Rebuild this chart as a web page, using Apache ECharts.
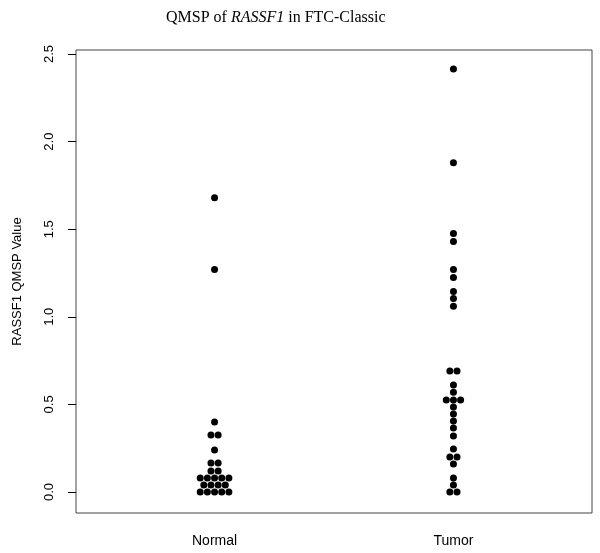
<!DOCTYPE html>
<html>
<head>
<meta charset="utf-8">
<script src="https://cdn.jsdelivr.net/npm/echarts@6/dist/echarts.min.js"></script>
<style>
  html, body { margin: 0; background: #fff; }
  #chart { width: 600px; height: 553px; }
</style>
</head>
<body>
<div id="chart"></div>
<script>
const groups = ["Normal", "Tumor"];
const normalValues = [
  1.68, 1.27, 0.40, 0.325, 0.325, 0.24, 0.165, 0.165, 0.12, 0.12,
  0.08, 0.08, 0.08, 0.08, 0.08, 0.04, 0.04, 0.04, 0.04,
  0, 0, 0, 0, 0
];
const tumorValues = [
  2.415, 1.88, 1.475, 1.43, 1.27, 1.225, 1.145, 1.105, 1.06,
  0.69, 0.69, 0.61, 0.57, 0.525, 0.525, 0.525, 0.485, 0.445, 0.405,
  0.365, 0.32, 0.245, 0.2, 0.2, 0.16, 0.08, 0.04, 0, 0
];
const yTicks = [0, 0.5, 1, 1.5, 2, 2.5];

// beeswarm: points with the same value are placed side by side
const swarm = (values, center, step) => {
  const counts = {};
  values.forEach(v => { counts[v] = (counts[v] || 0) + 1; });
  const seen = {};
  return values.map(v => {
    const i = seen[v] || 0;
    seen[v] = i + 1;
    return [center + (i - (counts[v] - 1) / 2) * step, v];
  });
};

const chart = echarts.init(document.getElementById("chart"));

const option = {
  animation: false,
  title: {
    text: "{a|QMSP of }{b|RASSF1}{a| in FTC-Classic}",
    left: 161,
    top: 5,
    textStyle: {
      fontWeight: "normal",
      rich: {
        a: { fontFamily: "Liberation Serif", fontSize: 16, fontWeight: "normal", color: "#000" },
        b: { fontFamily: "Liberation Serif", fontSize: 16, fontWeight: "normal", color: "#000", fontStyle: "italic" }
      }
    }
  },
  grid: {
    left: 76,
    right: 8,
    top: 50,
    bottom: 40,
    show: true,
    borderColor: "#444",
    borderWidth: 1
  },
  xAxis: {
    type: "value",
    min: 0.42,
    max: 2.58,
    splitLine: { show: false },
    axisLine: { show: false },
    axisTick: { show: false },
    axisLabel: {
      customValues: [1, 2],
      formatter: v => groups[Math.round(v) - 1],
      fontFamily: "Liberation Sans",
      fontSize: 14,
      color: "#000",
      margin: 21
    }
  },
  yAxis: {
    type: "value",
    min: -0.12,
    max: 2.523,
    name: "RASSF1 QMSP Value",
    nameLocation: "middle",
    nameGap: 52,
    nameTextStyle: { fontFamily: "Liberation Sans", fontSize: 13, color: "#000" },
    splitLine: { show: false },
    axisLine: { show: false },
    axisTick: {
      show: true,
      customValues: yTicks,
      length: 8,
      lineStyle: { color: "#000" }
    },
    axisLabel: {
      customValues: yTicks,
      formatter: v => v.toFixed(1),
      rotate: 90,
      margin: 20,
      fontFamily: "Liberation Sans",
      fontSize: 13,
      color: "#000"
    }
  },
  series: [
    {
      name: groups[0],
      type: "scatter",
      symbol: "circle",
      symbolSize: 7,
      itemStyle: { color: "#000", opacity: 1 },
      data: swarm(normalValues, 1, 0.03)
    },
    {
      name: groups[1],
      type: "scatter",
      symbol: "circle",
      symbolSize: 7,
      itemStyle: { color: "#000", opacity: 1 },
      data: swarm(tumorValues, 2, 0.03)
    }
  ]
};

chart.setOption(option);
</script>
</body>
</html>
